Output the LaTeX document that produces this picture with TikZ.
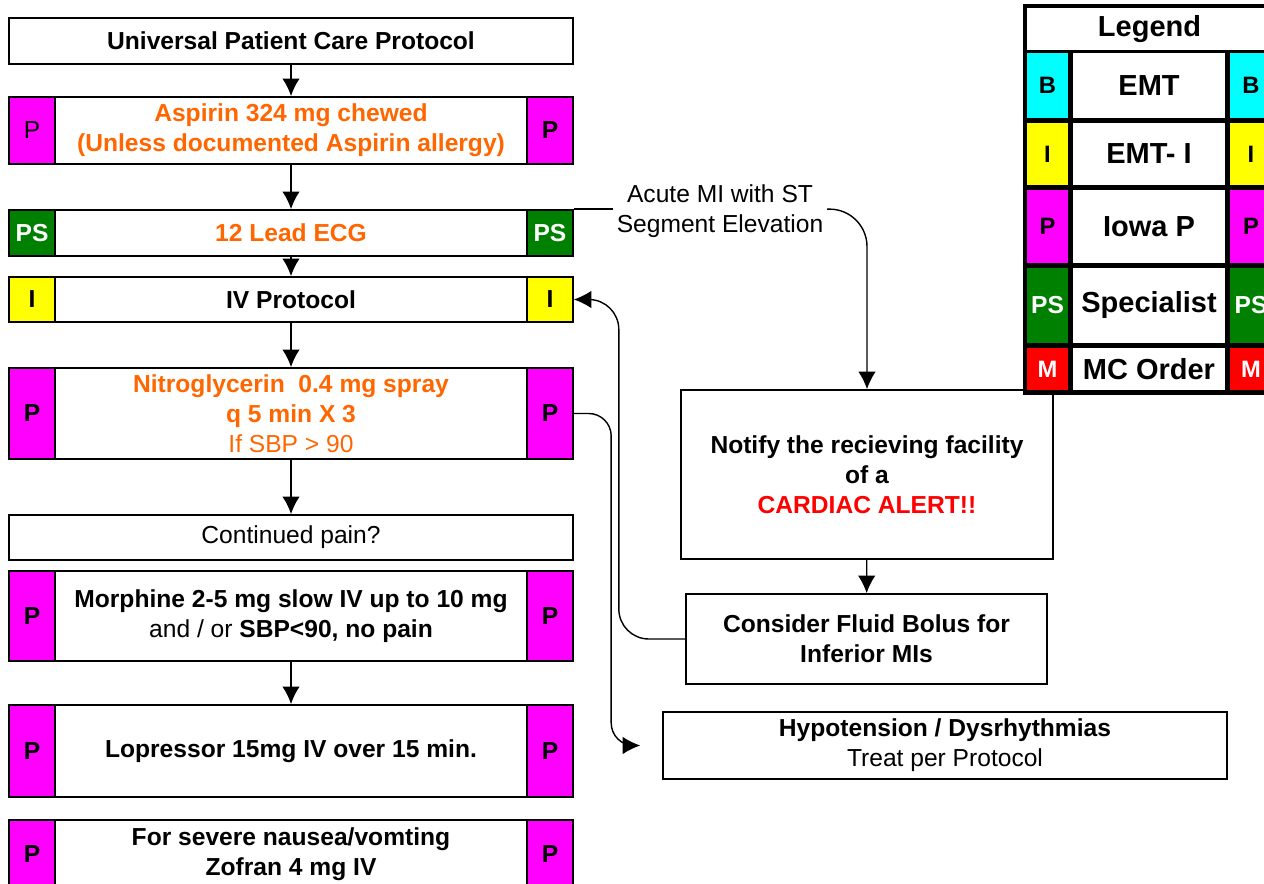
\documentclass[tikz,border=0pt]{standalone}
\usepackage{fontspec}
\setmainfont{Liberation Sans}
\usetikzlibrary{arrows.meta}
\usetikzlibrary{positioning}

\definecolor{drugorange}{RGB}{255,102,0}
\definecolor{tagGreen}{RGB}{0,128,0}
\definecolor{tagMagenta}{RGB}{255,0,255}
\definecolor{tagCyan}{RGB}{0,255,255}
\definecolor{tagYellow}{RGB}{255,255,0}
\definecolor{tagRed}{RGB}{255,0,0}
\newcommand{\boxfont}{\fontsize{14}{17}\selectfont}

\begin{document}
\begin{tikzpicture}[
  x=0.02cm, y=-0.02cm,
  > = {Latex[length=10pt,width=10pt]},
  every node/.style = {font=\boxfont},
  card/.style = {draw, fill=white, line width=1pt, minimum width=11.28cm, align=center, inner sep=2pt},
  tag/.style = {draw, fill=#1, line width=1pt, minimum width=0.92cm, inner sep=0pt, font=\boxfont\bfseries},
  lgcell/.style = {fill=white, inner sep=0pt, font=\fontsize{16.5}{19}\selectfont\bfseries},
  lgtag/.style = {fill=#1, inner sep=0pt, font=\fontsize{13.5}{16}\selectfont\bfseries}
  ]
	\useasboundingbox (0,0) rectangle (1264,884);
	\clip (0,0) rectangle (1264,884);

	% main column
	\node[card, minimum height=0.92cm, font=\boxfont\bfseries] (upc) at (291,41) {Universal Patient Care Protocol};

	\node[card, minimum height=1.34cm, text=drugorange, font=\boxfont\bfseries] (asp) at (291,130.5) {Aspirin 324 mg chewed\\(Unless documented Aspirin allergy)};
	\node[tag=tagMagenta, minimum height=1.34cm, anchor=west, font=\boxfont] (aspL) at (asp.west) {P};
	\node[tag=tagMagenta, minimum height=1.34cm, anchor=east] (aspR) at (asp.east) {P};

	\node[card, minimum height=0.92cm, text=drugorange, font=\boxfont\bfseries] (ecg) at (291,233) {12 Lead ECG};
	\node[tag=tagGreen, minimum height=0.92cm, anchor=west, text=white] (ecgL) at (ecg.west) {PS};
	\node[tag=tagGreen, minimum height=0.92cm, anchor=east, text=white] (ecgR) at (ecg.east) {PS};

	\node[card, minimum height=0.9cm, font=\boxfont\bfseries] (ivp) at (291,299.5) {IV Protocol};
	\node[tag=tagYellow, minimum height=0.9cm, anchor=west] (ivpL) at (ivp.west) {I};
	\node[tag=tagYellow, minimum height=0.9cm, anchor=east] (ivpR) at (ivp.east) {I};

	\node[card, minimum height=1.82cm, text=drugorange] (ntg) at (291,413.5) {{\bfseries Nitroglycerin\ \ 0.4 mg spray}\\{\bfseries q 5 min X 3}\\If SBP > 90};
	\node[tag=tagMagenta, minimum height=1.82cm, anchor=west] (ntgL) at (ntg.west) {P};
	\node[tag=tagMagenta, minimum height=1.82cm, anchor=east] (ntgR) at (ntg.east) {P};

	\node[card, minimum height=0.9cm] (pain) at (291,537.5) {Continued pain?};

	\node[card, minimum height=1.8cm] (mor) at (291,616) {{\bfseries Morphine 2-5 mg slow IV up to 10 mg}\\and / or {\bfseries SBP<90, no pain}};
	\node[tag=tagMagenta, minimum height=1.8cm, anchor=west] (morL) at (mor.west) {P};
	\node[tag=tagMagenta, minimum height=1.8cm, anchor=east] (morR) at (mor.east) {P};

	\node[card, minimum height=1.84cm, font=\boxfont\bfseries] (lop) at (291,751) {Lopressor 15mg IV over 15 min.};
	\node[tag=tagMagenta, minimum height=1.84cm, anchor=west] (lopL) at (lop.west) {P};
	\node[tag=tagMagenta, minimum height=1.84cm, anchor=east] (lopR) at (lop.east) {P};

	\node[card, minimum height=1.36cm, font=\boxfont\bfseries] (zof) at (291,854) {For severe nausea/vomting\\Zofran 4 mg IV};
	\node[tag=tagMagenta, minimum height=1.36cm, anchor=west] (zofL) at (zof.west) {P};
	\node[tag=tagMagenta, minimum height=1.36cm, anchor=east] (zofR) at (zof.east) {P};

	% right side
	\node[align=center, inner sep=2pt] (mi) at (720,211) {Acute MI with ST\\Segment Elevation};
	\node[card, minimum width=7.44cm, minimum height=3.38cm, font=\boxfont\bfseries] (notify) at (867,474.5) {Notify the recieving facility\\of a\\\textcolor{tagRed}{CARDIAC ALERT!!}};
	\node[card, minimum width=7.22cm, minimum height=1.8cm, font=\boxfont\bfseries] (fluid) at (866.5,639) {Consider Fluid Bolus for\\Inferior MIs};
	\node[card, minimum height=1.34cm] (hypo) at (945,745.5) {\textbf{Hypotension / Dysrhythmias}\\Treat per Protocol};

	\draw[->, line width=1pt] (upc) -- (asp);
	\draw[->, line width=1pt] (asp) -- (ecg);
	\draw[->, line width=1pt] (ecg) -- (ivp);
	\draw[->, line width=1pt] (ivp) -- (ntg);
	\draw[->, line width=1pt] (ntg) -- (pain);
	\draw[->, line width=1pt] (mor) -- (lop);

	\draw[line width=0.8pt] (ecgR.north east) -- (mi.west |- ecgR.north east);
	\draw[->, line width=0.8pt, rounded corners=0.75cm] (mi.east |- ecgR.north east) -| (notify.north);
	\draw[->, line width=0.8pt] (notify) -- (fluid);
	\draw[->, line width=0.8pt, rounded corners=0.6cm] (fluid.west) -| ([xshift=0.9cm]ivpR.east) -- (ivpR.east);
	\draw[->, line width=0.8pt, rounded corners=0.45cm, shorten >=0.44cm] (ntgR.east) -| ([xshift=-1.02cm]hypo.west) -- (hypo.west);

	% legend
	\fill (1023,4) rectangle (1280,395);
	\node[lgcell, minimum width=4.9cm, minimum height=0.84cm] (lghead) at (1149.5,29) {Legend};

	\node[lgtag=tagCyan, minimum width=0.82cm, minimum height=1.3cm] (lgBL) at (1047.5,85.5) {B};
	\node[lgcell, minimum width=3.04cm, minimum height=1.3cm] (lgB) at (1149,85.5) {EMT};
	\node[lgtag=tagCyan, minimum width=0.84cm, minimum height=1.3cm] (lgBR) at (1251,85.5) {B};

	\node[lgtag=tagYellow, minimum width=0.82cm, minimum height=1.24cm] (lgIL) at (1047.5,154) {I};
	\node[lgcell, minimum width=3.04cm, minimum height=1.24cm] (lgI) at (1149,154) {EMT- I};
	\node[lgtag=tagYellow, minimum width=0.84cm, minimum height=1.24cm] (lgIR) at (1251,154) {I};

	\node[lgtag=tagMagenta, minimum width=0.82cm, minimum height=1.46cm] (lgPL) at (1047.5,226.5) {P};
	\node[lgcell, minimum width=3.04cm, minimum height=1.46cm] (lgP) at (1149,226.5) {Iowa P};
	\node[lgtag=tagMagenta, minimum width=0.84cm, minimum height=1.46cm] (lgPR) at (1251,226.5) {P};

	\node[lgtag=tagGreen, minimum width=0.82cm, minimum height=1.5cm, text=white, font=\fontsize{14}{17}\selectfont\bfseries] (lgSL) at (1047.5,305.5) {PS};
	\node[lgcell, minimum width=3.04cm, minimum height=1.5cm] (lgS) at (1149,305.5) {Specialist};
	\node[lgtag=tagGreen, minimum width=0.84cm, minimum height=1.5cm, text=white, font=\fontsize{14}{17}\selectfont\bfseries] (lgSR) at (1251,305.5) {PS};

	\node[lgtag=tagRed, minimum width=0.82cm, minimum height=0.84cm, text=white] (lgML) at (1047.5,369) {M};
	\node[lgcell, minimum width=3.04cm, minimum height=0.84cm] (lgM) at (1149,369) {MC Order};
	\node[lgtag=tagRed, minimum width=0.84cm, minimum height=0.84cm, text=white] (lgMR) at (1251,369) {M};

\end{tikzpicture}
\end{document}
